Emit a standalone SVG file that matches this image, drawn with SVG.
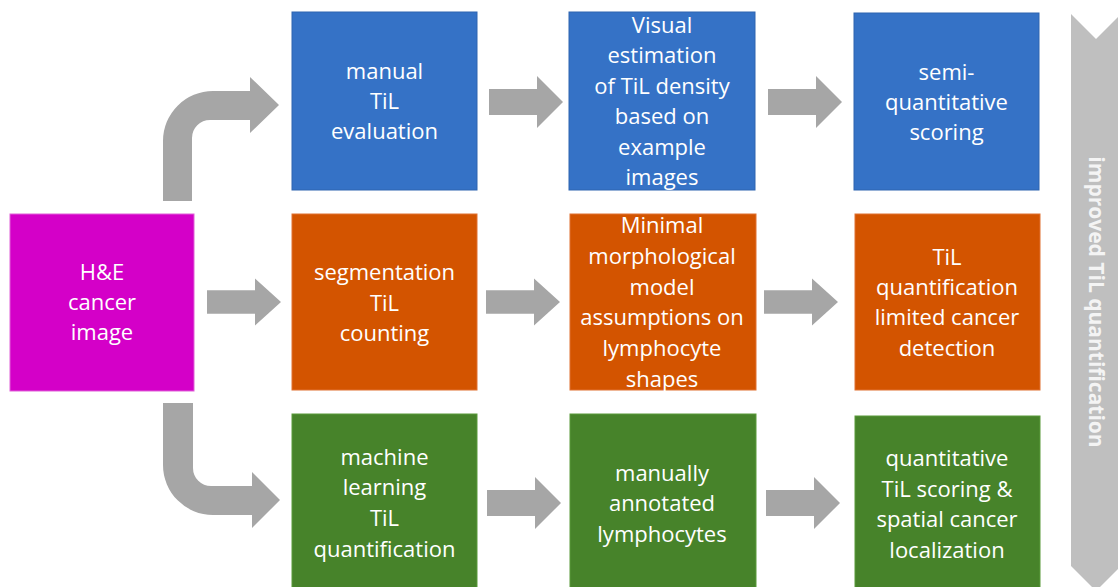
<svg xmlns="http://www.w3.org/2000/svg" width="1118" height="587" viewBox="0 0 1118 587">
<style>
  .lbl { font-family: "Open Sans", "Liberation Sans", sans-serif; font-size: 22px; fill: #ffffff; text-anchor: middle; }
  .blue { fill: #3572c6; stroke: #2e64b0; stroke-width: 1; }
  .orange { fill: #d35400; stroke: #e07030; stroke-width: 1; }
  .green { fill: #47832a; stroke: #5a9a3a; stroke-width: 1; }
  .magenta { fill: #d400c8; stroke: #e060d8; stroke-width: 1; }
  .arr { fill: #a6a6a6; }
  .side { font-family: "Open Sans", "Liberation Sans", sans-serif; font-size: 21px; font-weight: bold; fill: #f4f4f4; text-anchor: middle; }
</style>
<defs>
  <path id="rarrow" d="M0,-13 L48,-13 L48,-26 L74,0 L48,26 L48,13 L0,13 Z"/>
</defs>
<rect width="1118" height="587" fill="#ffffff"/>

<g id="connectors">
  <use href="#rarrow" class="arr" transform="translate(489,102)"/>
  <use href="#rarrow" class="arr" transform="translate(768,102)"/>
  <use href="#rarrow" class="arr" transform="translate(207,302) scale(1,0.9)"/>
  <use href="#rarrow" class="arr" transform="translate(486,302) scale(1,0.9)"/>
  <use href="#rarrow" class="arr" transform="translate(764,302) scale(1,0.9)"/>
  <use href="#rarrow" class="arr" transform="translate(487,503)"/>
  <use href="#rarrow" class="arr" transform="translate(766,503)"/>
  <path class="arr" d="M163,201 L163,141 A50,50 0 0 1 213,91 L250,91 L250,77 L279,105 L250,133 L250,120 L210,120 A18,18 0 0 0 192,138 L192,201 Z"/>
  <path class="arr" d="M163,403 L163,465 A50,50 0 0 0 213,515 L252,515 L252,528 L280,500 L252,472 L252,486 L211,486 A18,18 0 0 1 193,468 L193,403 Z"/>
</g>

<g id="node-he">
  <rect class="magenta" x="10" y="214" width="184" height="177"/>
  <text class="lbl" x="102" y="280">H&amp;E</text>
  <text class="lbl" x="102" y="310">cancer</text>
  <text class="lbl" x="102" y="340">image</text>
</g>

<g id="node-manual">
  <rect class="blue" x="292" y="12" width="185" height="178"/>
  <text class="lbl" x="384.5" y="79">manual</text>
  <text class="lbl" x="384.5" y="109">TiL</text>
  <text class="lbl" x="384.5" y="139">evaluation</text>
</g>
<g id="node-visual">
  <rect class="blue" x="569" y="12" width="186" height="178"/>
  <text class="lbl" x="662" y="33">Visual</text>
  <text class="lbl" x="662" y="63">estimation</text>
  <text class="lbl" x="662" y="94">of TiL density</text>
  <text class="lbl" x="662" y="124">based on</text>
  <text class="lbl" x="662" y="155">example</text>
  <text class="lbl" x="662" y="185">images</text>
</g>
<g id="node-semi">
  <rect class="blue" x="854" y="13" width="185" height="177"/>
  <text class="lbl" x="946.5" y="80">semi-</text>
  <text class="lbl" x="946.5" y="110">quantitative</text>
  <text class="lbl" x="946.5" y="140">scoring</text>
</g>

<g id="node-segmentation">
  <rect class="orange" x="292" y="214" width="185" height="176"/>
  <text class="lbl" x="384.5" y="280">segmentation</text>
  <text class="lbl" x="384.5" y="311">TiL</text>
  <text class="lbl" x="384.5" y="341">counting</text>
</g>
<g id="node-minimal">
  <rect class="orange" x="570" y="214" width="186" height="176"/>
  <text class="lbl" x="662" y="233">Minimal</text>
  <text class="lbl" x="662" y="264">morphological</text>
  <text class="lbl" x="662" y="295">model</text>
  <text class="lbl" x="662" y="325">assumptions on</text>
  <text class="lbl" x="662" y="356">lymphocyte</text>
  <text class="lbl" x="662" y="387">shapes</text>
</g>
<g id="node-til-quant">
  <rect class="orange" x="855" y="214" width="185" height="176"/>
  <text class="lbl" x="947" y="265">TiL</text>
  <text class="lbl" x="947" y="295">quantification</text>
  <text class="lbl" x="947" y="325">limited cancer</text>
  <text class="lbl" x="947" y="356">detection</text>
</g>

<g id="node-ml">
  <rect class="green" x="292" y="414" width="185" height="180"/>
  <text class="lbl" x="384.5" y="465">machine</text>
  <text class="lbl" x="384.5" y="495">learning</text>
  <text class="lbl" x="384.5" y="526">TiL</text>
  <text class="lbl" x="384.5" y="557">quantification</text>
</g>
<g id="node-annotated">
  <rect class="green" x="570" y="414" width="186" height="180"/>
  <text class="lbl" x="662" y="481">manually</text>
  <text class="lbl" x="662" y="511">annotated</text>
  <text class="lbl" x="662" y="542">lymphocytes</text>
</g>
<g id="node-quantitative">
  <rect class="green" x="855" y="416" width="185" height="178"/>
  <text class="lbl" x="947" y="466">quantitative</text>
  <text class="lbl" x="947" y="497">TiL scoring &amp;</text>
  <text class="lbl" x="947" y="527">spatial cancer</text>
  <text class="lbl" x="947" y="558">localization</text>
</g>

<g id="node-improved">
  <polygon fill="#bfbfbf" points="1071,14 1096,39 1121,14 1121,566 1096,591 1071,566"/>
  <text class="side" transform="translate(1097,302) rotate(90)" dominant-baseline="central">improved TiL quantification</text>
</g>
</svg>
